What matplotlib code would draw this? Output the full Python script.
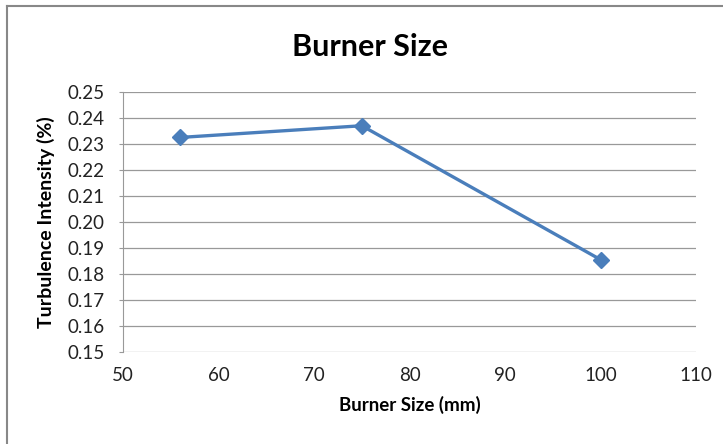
import matplotlib.pyplot as plt
import numpy as np
from matplotlib.lines import Line2D

# burner size data
burner_size = [56, 75, 100]
turbulence = [0.2325, 0.237, 0.1855]

x_ticks = [50, 60, 70, 80, 90, 100, 110]
y_ticks = np.round(np.arange(0.15, 0.2501, 0.01), 2)

plt.rcParams['font.family'] = ['Lato', 'DejaVu Sans']

fig = plt.figure(figsize=(7.23, 4.44), dpi=100)
ax = fig.add_axes([0.170, 0.207, 0.793, 0.586])

ax.plot(burner_size, turbulence, color='#4A7EBB', linewidth=2.4,
        marker='D', markersize=8.5, markerfacecolor='#4A7EBB',
        markeredgecolor='#4A7EBB')

ax.set_xlim(50, 110)
ax.set_ylim(0.15, 0.25)
ax.set_xticks(x_ticks)
ax.set_yticks(y_ticks)
ax.set_yticklabels(['%.2f' % v for v in y_ticks])

# gridlines, excel style
ax.yaxis.grid(True, color='#999999', linewidth=0.9)
ax.set_axisbelow(True)
for s in ['top', 'right', 'bottom']:
    ax.spines[s].set_visible(False)
ax.spines['left'].set_color('#999999')
ax.tick_params(axis='y', direction='out', length=3, color='#999999',
               labelsize=13.5, pad=10, labelcolor='#222222')
ax.tick_params(axis='x', length=0, labelsize=13.5, pad=11, labelcolor='#222222')

fig.text(0.512, 0.895, 'Burner Size', fontsize=22, fontweight='bold',
         ha='center', va='center')
ax.set_xlabel('Burner Size (mm)', fontsize=13.5, fontweight='bold', labelpad=8)
ax.set_ylabel('Turbulence Intensity (%)', fontsize=14, fontweight='bold')
ax.yaxis.set_label_coords(-0.118, 0.5)

# outer chart border (only left and top visible)
fig.add_artist(Line2D([0.0097, 0.0097], [0, 0.986], transform=fig.transFigure,
                      color='#888888', linewidth=1.5))
fig.add_artist(Line2D([0.0097, 1.0], [0.986, 0.986], transform=fig.transFigure,
                      color='#888888', linewidth=1.5))

plt.savefig('out.png', dpi=100)
